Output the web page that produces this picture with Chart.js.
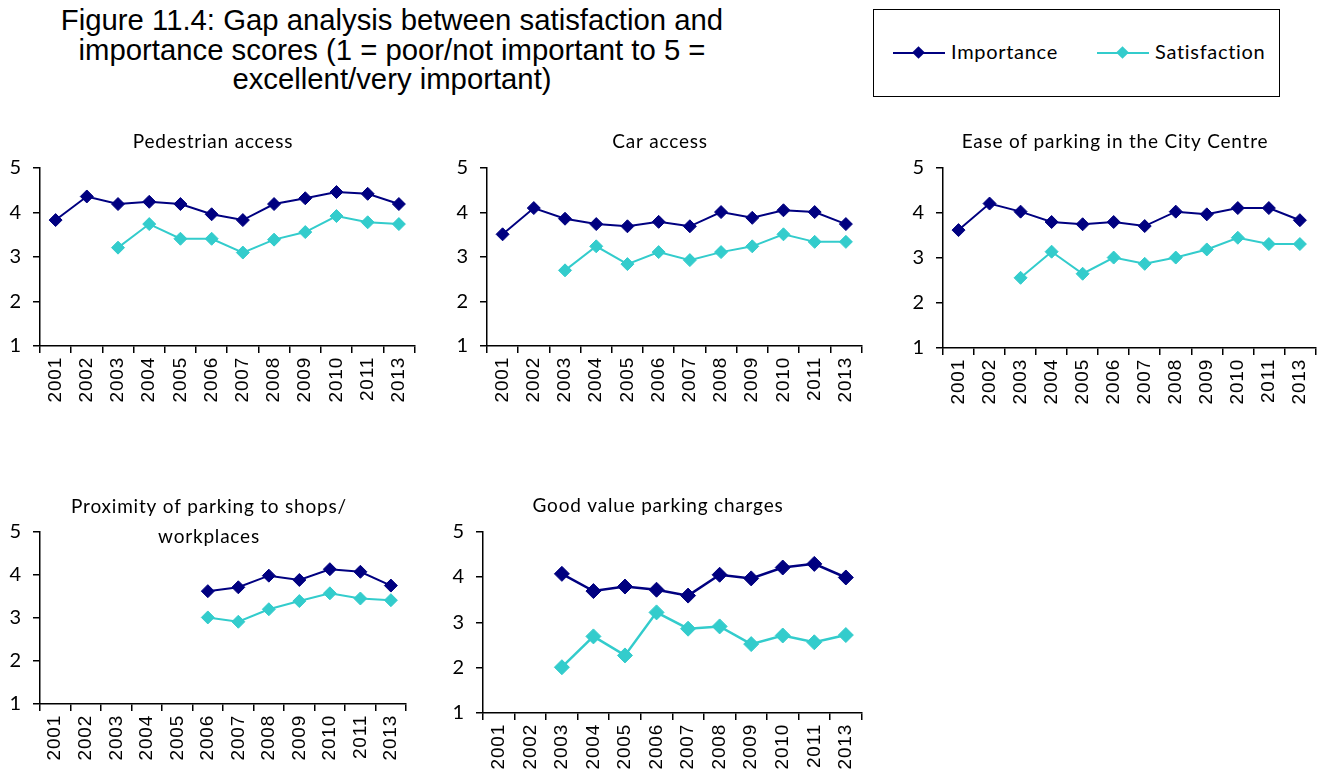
<!DOCTYPE html>
<html>
<head>
<meta charset="utf-8">
<title>Gap analysis between satisfaction and importance scores</title>
<script src="https://cdn.jsdelivr.net/npm/chart.js@4.4.1/dist/chart.umd.min.js"></script>
<style>
  body { margin: 0; width: 1324px; height: 773px; background: #fff; position: relative; overflow: hidden; }
  #title {
    position: absolute; left: 0; top: 5px; width: 784px; text-align: center;
    font-family: 'Liberation Sans', Arial, sans-serif;
    font-size: 29.3px; line-height: 29.6px; color: #000;
  }
  #legend {
    position: absolute; left: 873px; top: 9px; width: 407px; height: 88px;
    box-sizing: border-box; border: 1.5px solid #000; background: #fff;
    font-family: Lato, sans-serif; font-size: 20px; color: #000; letter-spacing: 0.7px;
  }
  .key { position: absolute; top: 42px; width: 52px; height: 2px; }
  .key i { position: absolute; left: 21px; top: -4px; width: 9px; height: 9px; transform: rotate(45deg); }
  .lab { position: absolute; top: 30px; line-height: 22px; }
  canvas { position: absolute; }
</style>
</head>
<body>
<div id="title">Figure 11.4: Gap analysis between satisfaction and<br>importance scores (1 = poor/not important to 5 =<br>excellent/very important)</div>
<div id="legend">
  <div class="key" style="left:19px;background:#000080"><i style="background:#000080"></i></div>
  <div class="lab" style="left:77px">Importance</div>
  <div class="key" style="left:223px;background:#33CCCC"><i style="background:#33CCCC"></i></div>
  <div class="lab" style="left:281px">Satisfaction</div>
</div>
<canvas id="c1"></canvas>
<canvas id="c2"></canvas>
<canvas id="c3"></canvas>
<canvas id="c4"></canvas>
<canvas id="c5"></canvas>
<script>
var years = ['2001', '2002', '2003', '2004', '2005', '2006', '2007', '2008', '2009', '2010', '2011', '2013'];

var pedestrianImportance   = [3.83, 4.36, 4.19, 4.24, 4.19, 3.96, 3.83, 4.19, 4.32, 4.46, 4.42, 4.19];
var pedestrianSatisfaction = [null, null, 3.21, 3.74, 3.41, 3.41, 3.10, 3.39, 3.56, 3.92, 3.78, 3.74];

var carImportance   = [3.51, 4.10, 3.86, 3.74, 3.69, 3.79, 3.69, 4.01, 3.88, 4.05, 4.01, 3.74];
var carSatisfaction = [null, null, 2.70, 3.24, 2.84, 3.11, 2.93, 3.11, 3.24, 3.51, 3.34, 3.34];

var easeImportance   = [3.62, 4.21, 4.03, 3.80, 3.75, 3.80, 3.71, 4.03, 3.97, 4.11, 4.11, 3.84];
var easeSatisfaction = [null, null, 2.56, 3.14, 2.65, 3.01, 2.87, 3.01, 3.19, 3.45, 3.31, 3.31];

var proximityImportance   = [null, null, null, null, null, 3.62, 3.71, 3.98, 3.88, 4.13, 4.07, 3.75];
var proximitySatisfaction = [null, null, null, null, null, 3.01, 2.91, 3.20, 3.39, 3.57, 3.45, 3.41];

var chargesImportance   = [null, null, 4.07, 3.69, 3.79, 3.72, 3.59, 4.05, 3.97, 4.21, 4.29, 3.99];
var chargesSatisfaction = [null, null, 2.01, 2.69, 2.27, 3.22, 2.86, 2.91, 2.52, 2.71, 2.56, 2.72];

var navy = '#000080';
var teal = '#33CCCC';

// where each small chart sits on the page and how its title is spaced
var panels = [
  { id: 'c1', title: 'Pedestrian access', imp: pedestrianImportance, sat: pedestrianSatisfaction,
    left: 0, top: 120, width: 426, height: 286, padTop: 10.6, padBottom: 14.6, lineHeight: 1.2, r: 6.5, lw: 2 },
  { id: 'c2', title: 'Car access', imp: carImportance, sat: carSatisfaction,
    left: 446.7, top: 120, width: 426, height: 286, padTop: 10.6, padBottom: 14.6, lineHeight: 1.2, r: 6.5, lw: 2 },
  { id: 'c3', title: 'Ease of parking in the City Centre', imp: easeImportance, sat: easeSatisfaction,
    left: 902.7, top: 120, width: 424.5, height: 288, padTop: 10.6, padBottom: 14.6, lineHeight: 1.2, r: 6.5, lw: 2 },
  { id: 'c4', title: ['Proximity of parking to shops/', 'workplaces'], imp: proximityImportance, sat: proximitySatisfaction,
    left: 0, top: 480, width: 418, height: 284, padTop: 11.7, padBottom: -20, lineHeight: 1.58, r: 6.5, lw: 2 },
  { id: 'c5', title: 'Good value parking charges', imp: chargesImportance, sat: chargesSatisfaction,
    left: 443.3, top: 480, width: 430.5, height: 293, padTop: 14.6, padBottom: 14.3, lineHeight: 1.2, r: 7.5, lw: 2.5 }
];

// wider letter spacing for the canvas text
var spacing = {
  id: 'spacing',
  beforeDraw: function (chart) { chart.ctx.letterSpacing = '0.8px'; }
};

function series(label, values, colour, p) {
  return {
    label: label,
    data: values,
    borderColor: colour,
    backgroundColor: colour,
    borderWidth: p.lw,
    pointStyle: 'rectRot',
    pointRadius: p.r,
    pointBorderWidth: 1,
    pointBackgroundColor: colour,
    pointBorderColor: colour,
    tension: 0,
    spanGaps: false
  };
}

panels.forEach(function (p) {
  var canvas = document.getElementById(p.id);
  canvas.width = p.width;
  canvas.height = p.height;
  canvas.style.left = p.left + 'px';
  canvas.style.top = p.top + 'px';

  new Chart(canvas.getContext('2d'), {
    type: 'line',
    plugins: [spacing],
    data: {
      labels: years,
      datasets: [series('Importance', p.imp, navy, p), series('Satisfaction', p.sat, teal, p)]
    },
    options: {
      responsive: false,
      animation: false,
      devicePixelRatio: 1,
      layout: { padding: 0 },
      plugins: {
        legend: { display: false },
        tooltip: { enabled: false },
        title: {
          display: true,
          text: p.title,
          color: '#000',
          font: { family: 'Lato', size: 19, weight: 'normal', lineHeight: p.lineHeight },
          padding: { top: p.padTop, bottom: p.padBottom }
        }
      },
      scales: {
        x: {
          type: 'category',
          offset: true,
          grid: { offset: true, drawOnChartArea: false, drawTicks: true, tickLength: 7, color: '#000', lineWidth: 1.5 },
          border: { display: true, color: '#000', width: 1.5 },
          ticks: {
            autoSkip: false, minRotation: 90, maxRotation: 90, padding: 4, color: '#000',
            font: { family: "'Liberation Sans', Arial", size: 19 }
          },
          afterFit: function (scale) { scale.height = 60; }
        },
        y: {
          min: 1,
          max: 5,
          grid: { drawOnChartArea: false, drawTicks: true, tickLength: 7, color: '#000', lineWidth: 1.5 },
          border: { display: true, color: '#000', width: 1.5 },
          ticks: { stepSize: 1, padding: 11, color: '#000', font: { family: 'Lato', size: 20 } },
          afterFit: function (scale) { scale.width = 40; }
        }
      }
    }
  });
});
</script>
</body>
</html>
